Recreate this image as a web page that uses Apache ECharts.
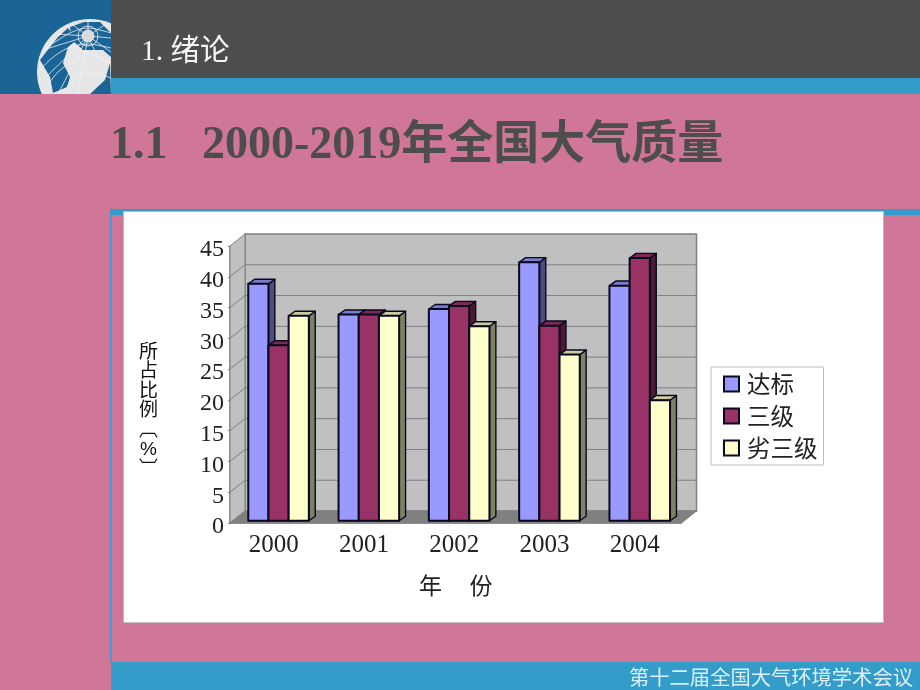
<!DOCTYPE html>
<html><head><meta charset="utf-8">
<style>html,body{margin:0;padding:0;background:#CF7699}#c{width:920px;height:690px}</style>
<script src="https://cdn.jsdelivr.net/npm/echarts@6/dist/echarts.min.js"></script>
</head><body><div id="c"></div>
<script>
const categories = ['2000','2001','2002','2003','2004'];
const seriesNames = ['达标','三级','劣三级'];
const standardValues = [38.5,33.5,34.4,42.0,38.2];
const grade3Values = [28.5,33.5,34.9,31.7,42.7];
const belowGrade3Values = [33.3,33.3,31.6,27.0,19.6];
const yTicks = [0,5,10,15,20,25,30,35,40,45];
const faceColors = ['#9999FF','#993366','#FFFFCC'];
const topColors = ['#7A7ACC','#7A2952','#CCCCA3'];
const sideColors = ['#4D4D80','#4D1A33','#808066'];

const CJK = '"Noto Sans CJK SC"';
const SERIF = '"Liberation Serif","Noto Sans CJK SC"';
const depthX = 15, depthY = 12;         // wall depth of the pseudo-3D box
const barW = 20.2, barDX = 6.4, barDY = 4.6; // bar width and bar depth
const insetX = 3.4, insetY = 2.2;       // bars stand slightly back on the floor

function wallItem(params, api) {
  const half = api.size([1,0])[0] / 2;
  const p0 = api.coord([0,0]), pT = api.coord([0,45]), pR = api.coord([4,0]);
  const xL = p0[0]-half, xR = pR[0]+half, yB = p0[1], yT = pT[1];
  const line = {stroke:'#808080', lineWidth:1};
  const kids = [
    {type:'polygon',shape:{points:[[xL+depthX,yT-depthY],[xR+depthX,yT-depthY],[xR+depthX,yB-depthY],[xL+depthX,yB-depthY]]},style:{fill:'#C0C0C0',stroke:'#808080',lineWidth:1.5}},
    {type:'polygon',shape:{points:[[xL,yT],[xL+depthX,yT-depthY],[xL+depthX,yB-depthY],[xL,yB]]},style:{fill:'#C0C0C0',stroke:'#808080',lineWidth:1}},
    {type:'polygon',shape:{points:[[xL,yB],[xL+depthX,yB-depthY],[xR+depthX,yB-depthY],[xR,yB]]},style:{fill:'#808080',stroke:'#808080',lineWidth:1}}
  ];
  yTicks.slice(1,-1).forEach(v => {
    const y = api.coord([0,v])[1];
    kids.push({type:'polyline',shape:{points:[[xL,y],[xL+depthX,y-depthY],[xR+depthX,y-depthY]]},style:Object.assign({fill:null},line)});
  });
  return {type:'group',children:kids};
}

function barRender(si) {
  return function(params, api) {
    const i = api.value(0);
    const top = api.coord([i, api.value(1)]);
    const base = api.coord([i, 0]);
    const x0 = top[0] + insetX + (si - 1.5) * barW;
    const x1 = x0 + barW;
    const yT = top[1] - insetY, yB = base[1] - insetY;
    const edge = {stroke:'#08081E', lineWidth:2, lineJoin:'round'};
    const thin = {stroke:'#08081E', lineWidth:1.4, lineJoin:'round'};
    return {type:'group',children:[
      {type:'polygon',shape:{points:[[x1,yT],[x1+barDX,yT-barDY],[x1+barDX,yB-barDY],[x1,yB]]},style:Object.assign({fill:sideColors[si]},thin)},
      {type:'polygon',shape:{points:[[x0,yT],[x0+barDX,yT-barDY],[x1+barDX,yT-barDY],[x1,yT]]},style:Object.assign({fill:topColors[si]},thin)},
      {type:'rect',shape:{x:x0,y:yT,width:barW,height:yB-yT},style:Object.assign({fill:faceColors[si]},edge)}
    ]};
  };
}

const allValues = [standardValues, grade3Values, belowGrade3Values];

// slide decoration
const oceanPatches = [
 [[68,28],[58,37],[50,47],[40,60],[50,77],[53,93],[67,87],[70,77],[63,63],[68,47],[77,40]],
 [[70,27],[84,22],[100,22],[111,33],[111,57],[103,50],[83,50],[72,40]],
 [[110,63],[105,80],[90,94],[111,94]]
];
const pole = [88,36];
const gridLines = [
 [pole,[55,34]],[pole,[43,50]],[pole,[45,78]],[pole,[58,94]],[pole,[78,94]],[pole,[98,58]],[pole,[111,52]],[pole,[111,38]],[pole,[106,24]],[pole,[88,20]],[pole,[70,23]],
 [[43,50],[55,42],[72,32],[88,28],[111,33]],
 [[38,72],[52,58],[68,48],[88,44],[111,48]],
 [[43,92],[58,72],[75,60],[90,54],[111,64]],
 [[62,94],[75,78],[90,72],[111,78]]
];
const graphicEls = [
  {type:'rect',z:0,shape:{x:0,y:0,width:920,height:690},style:{fill:'#CF7699'}},
  {type:'rect',z:0,shape:{x:0,y:0,width:111,height:94},style:{fill:'#1B6496'}},
  {type:'circle',z:0,shape:{cx:90,cy:72,r:53},style:{fill:'#E6E6E6'}}
];
oceanPatches.forEach(p => graphicEls.push({type:'polygon',z:0,shape:{points:p},style:{fill:'#1B6496'}}));
gridLines.forEach(p => graphicEls.push({type:'polyline',z:0,shape:{points:p,smooth:0.3},style:{fill:null,stroke:'#EEF2F5',lineWidth:0.8}}));
[6,10].forEach(r => graphicEls.push({type:'circle',z:0,shape:{cx:pole[0],cy:pole[1],r:r},style:{fill:r===6?'#DADADA':null,stroke:'#EEF2F5',lineWidth:0.8}}));
graphicEls.push(
  {type:'rect',z:0,shape:{x:0,y:94,width:920,height:596},style:{fill:'#CF7699'}},
  {type:'rect',z:0,shape:{x:111,y:0,width:809,height:78},style:{fill:'#4D4D4D'}},
  {type:'rect',z:0,shape:{x:111,y:78,width:809,height:16},style:{fill:'#339CC8'}},
  {type:'rect',z:0,shape:{x:110,y:209,width:810,height:6},style:{fill:'#339CC8'}},
  {type:'rect',z:0,shape:{x:110,y:209,width:1.5,height:453},style:{fill:'#339CC8'}},
  {type:'rect',z:0,shape:{x:111,y:662,width:809,height:28},style:{fill:'#339CC8'}},
  {type:'rect',z:0,shape:{x:123.5,y:211.5,width:760,height:411},style:{fill:'#FFFFFF',stroke:'#BDBDBD',lineWidth:1}},
  {type:'text',z:3,style:{x:141,y:52,text:'1. 绪论',fill:'#F5F5F5',font:'29.5px '+SERIF,textVerticalAlign:'middle'}},
  {type:'text',z:3,style:{x:110,y:146,text:'1.1   2000-2019年全国大气质量',fill:'#4D4D4D',font:'bold 46px '+SERIF,textVerticalAlign:'middle'}},
  {type:'text',z:3,style:{x:629,y:677,text:'第十二届全国大气环境学术会议',fill:'#DCEFF7',font:'20.3px '+CJK,textVerticalAlign:'middle'}},
  {type:'text',z:3,style:{x:148.5,y:343,text:'所\n占\n比\n例\n︹\n%\n︺',fill:'#111111',font:'19px "Liberation Sans","Noto Sans CJK SC"',lineHeight:19.5,align:'center',verticalAlign:'top'}}
);

const chart = echarts.init(document.getElementById('c'), null, {renderer:'canvas'});
chart.setOption({
  animation:false,
  backgroundColor:'transparent',
  graphic:{elements:graphicEls},
  grid:{left:230,right:238.5,top:246,bottom:167,containLabel:false},
  legend:{
    show:true,left:711,top:367,orient:'vertical',data:seriesNames,
    backgroundColor:'#FFFFFF',borderColor:'#BDBDBD',borderWidth:1,
    padding:[1,6,1,12],itemGap:0,itemWidth:15,itemHeight:15,icon:'rect',
    selectedMode:false,
    textStyle:{fontFamily:CJK,fontSize:23.5,color:'#222',lineHeight:32,padding:[0,0,0,3]}
  },
  xAxis:{
    type:'category',data:categories,
    name:'年\u3000\u2009份',nameLocation:'middle',nameGap:51,
    nameTextStyle:{fontFamily:CJK,fontSize:23,color:'#222'},
    axisLine:{lineStyle:{color:'#808080',width:1.5}},
    axisTick:{show:true,inside:true,lineStyle:{color:'#808080'},length:3},
    axisLabel:{fontFamily:SERIF,fontSize:25,color:'#222',margin:10,padding:[0,3,0,0]}
  },
  yAxis:{
    type:'value',min:0,max:45,interval:5,
    axisLine:{show:true,lineStyle:{color:'#808080',width:1.5}},
    axisTick:{show:true,lineStyle:{color:'#808080'},length:2},
    splitLine:{show:false},
    axisLabel:{fontFamily:SERIF,fontSize:24,color:'#222',margin:6,verticalAlign:'top',lineHeight:8}
  },
  series:[
    {type:'custom',name:'wall',silent:true,z:1,renderItem:wallItem,data:[[0,0]],encode:{x:0,y:1}}
  ].concat(seriesNames.map((n,si)=>({
    type:'custom',name:n,z:2+si,renderItem:barRender(si),
    itemStyle:{color:faceColors[si],borderColor:'#08081E',borderWidth:1.5},
    encode:{x:0,y:1},
    data:allValues[si].map((v,i)=>[i,v])
  })))
});
</script></body></html>
